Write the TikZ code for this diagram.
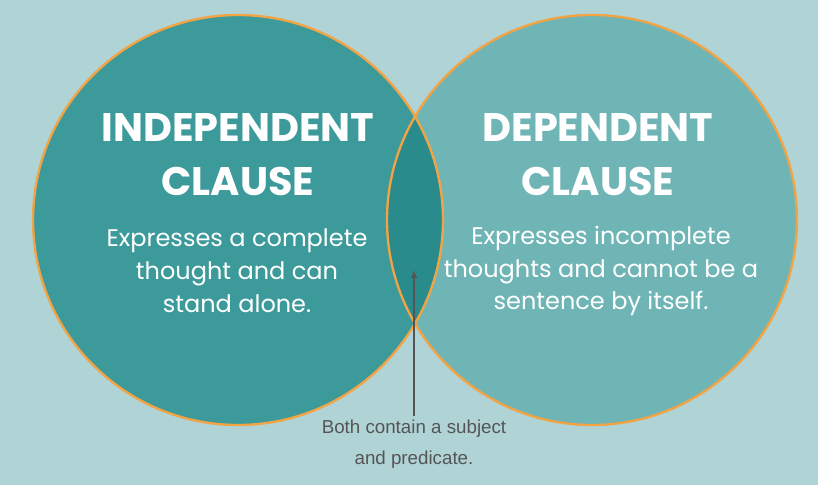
\documentclass[tikz,border=0pt]{standalone}
\usepackage{fontspec}
\setmainfont{Poppins}
\newfontfamily\notefont{Liberation Sans}
\usetikzlibrary{arrows.meta,positioning}
\definecolor{bgblue}{HTML}{B0D3D6}
\definecolor{leftteal}{HTML}{3C9A9B}
\definecolor{rightteal}{HTML}{70B5B6}
\definecolor{midteal}{HTML}{2A8B8D}
\definecolor{ringorange}{HTML}{F2A445}
\definecolor{notegray}{HTML}{555555}
\begin{document}
\begin{tikzpicture}[x=0.03cm,y=-0.03cm,
  title/.style={text=white,font=\fontsize{34}{46}\selectfont\bfseries,align=center},
  body/.style={text=white,font=\fontsize{20.5}{28}\selectfont,align=center},
  ring/.style={draw=ringorange,line width=2pt}]
  \fill[bgblue] (0,0) rectangle (818,485);
  \useasboundingbox (0,0) rectangle (818,485);

  % circles
  \fill[leftteal] (238,220) circle[radius=205];
  \fill[rightteal] (592,220) circle[radius=205];
  \begin{scope}
    \clip (238,220) circle[radius=205];
    \fill[midteal] (592,220) circle[radius=205];
  \end{scope}
  \draw[ring] (238,220) circle[radius=205];
  \draw[ring] (592,220) circle[radius=205];

  % texts
  \node[title] (indep) at (238,155) {INDEPENDENT\\CLAUSE};
  \node[title] (dep) at (598,155) {DEPENDENT\\CLAUSE};
  \node[body] (indeptext) at (237,271) {Expresses a complete\\thought and can\\stand alone.};
  \node[body] (deptext) at (601,271) {Expresses incomplete\\thoughts and cannot be a\\sentence by itself.};

  \node[text=notegray,font=\notefont\fontsize{16}{26}\selectfont,align=center] (note) at (414,444) {Both contain a subject\\and predicate.};
  \coordinate (overlap) at (414,270);
  \draw[-{Latex[length=7pt,width=6pt]},line width=1.3pt,draw=notegray] (note.north) -- (overlap);
\end{tikzpicture}
\end{document}
